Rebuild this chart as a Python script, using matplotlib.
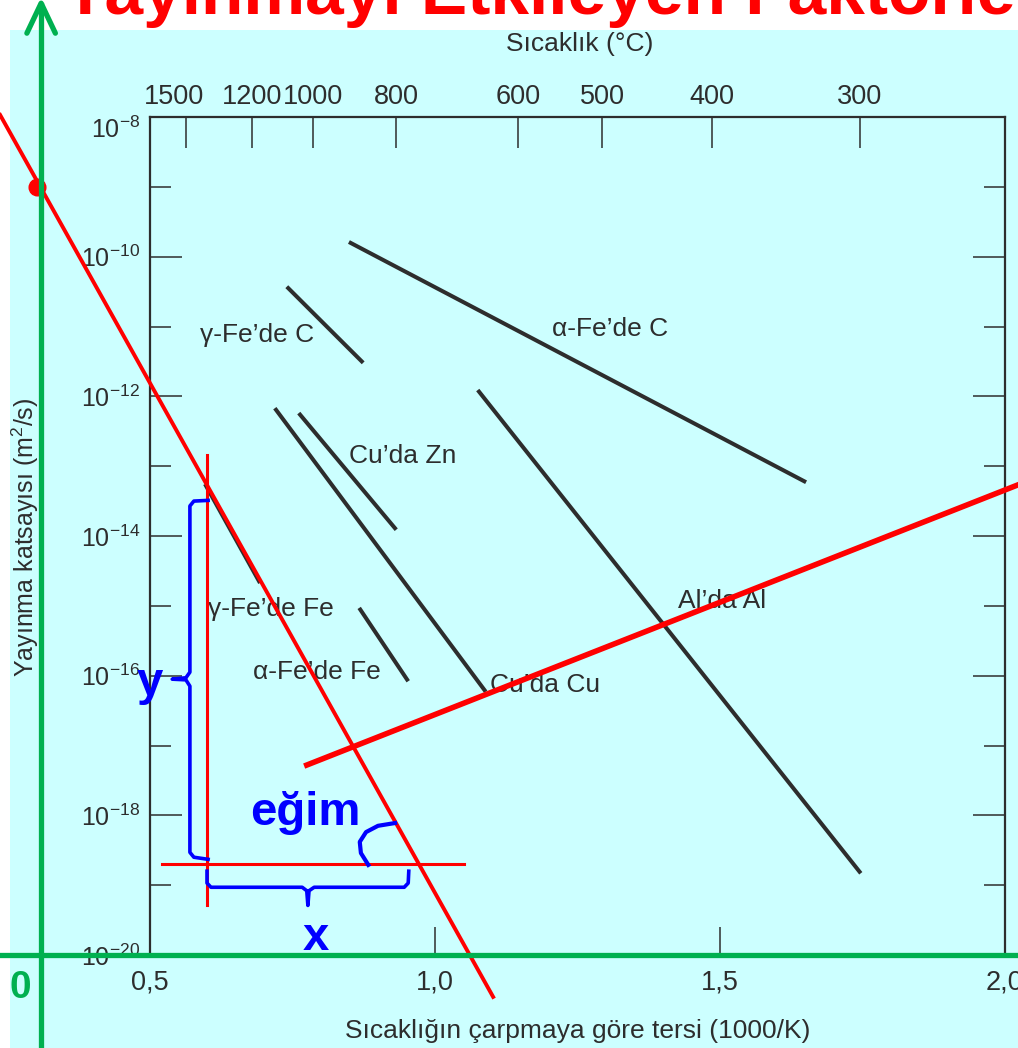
import numpy as np
import matplotlib
matplotlib.use('Agg')
import matplotlib.pyplot as plt
import matplotlib.transforms as mtransforms
from matplotlib.patches import Rectangle

plt.rcParams['font.family'] = ['Liberation Sans', 'DejaVu Sans']
plt.rcParams['mathtext.fontset'] = 'custom'
plt.rcParams['mathtext.rm'] = 'Liberation Sans'
plt.rcParams['mathtext.it'] = 'Liberation Sans:italic'
plt.rcParams['mathtext.bf'] = 'Liberation Sans:bold'
plt.rcParams['mathtext.default'] = 'regular'

# diffusion lines, x = 1000/K, e = log10(D in m2/s)
names   = ['α-Fe’de C', 'γ-Fe’de C', 'Cu’da Zn', 'Cu’da Cu', 'γ-Fe’de Fe', 'α-Fe’de Fe', 'Al’da Al']
x_start = [0.849, 0.740, 0.761, 0.719, 0.5965, 0.867, 1.075]
x_end   = [1.651, 0.874, 0.932, 1.089, 0.693, 0.953, 1.747]
e_start = [-9.79, -10.43, -12.24, -12.17, -13.256, -15.03, -11.91]
e_end   = [-13.23, -11.52, -13.91, -16.23, -14.673, -16.08, -18.83]

# label anchors (left edge, vertical centre)
lab_x = [1.205, 0.588, 0.849, 1.097, 0.602, 0.681, 1.4265]
lab_e = [-11.04, -11.12, -12.855, -16.134, -15.046, -15.948, -14.93]

major_exp = [-8, -10, -12, -14, -16, -18, -20]
minor_exp = [-9, -11, -13, -15, -17, -19]
x_ticks = [0.5, 1.0, 1.5, 2.0]
x_ticklabels = ['0,5', '1,0', '1,5', '2,0']
temps_c = [1500, 1200, 1000, 800, 600, 500, 400, 300]

# teaching overlay (same data coordinates)
steep_x = [0.237, 1.102]
steep_e = [-7.97, -20.60]
shallow_x = [0.775, 2.05]
shallow_e = [-17.28, -13.18]
vert_x = [0.600, 0.600]
vert_e = [-12.84, -19.28]
horiz_x = [0.521, 1.051]
horiz_e = [-18.70, -18.70]
dot_x, dot_e = 0.302, -9.0
ybrace_x = [0.602, 0.577, 0.570, 0.570, 0.563, 0.539, 0.563, 0.570, 0.570, 0.577, 0.602]
ybrace_e = [-13.49, -13.50, -13.57, -15.95, -16.03, -16.05, -16.06, -16.15, -18.53, -18.60, -18.63]
xbrace_x = [0.600, 0.600, 0.607, 0.767, 0.775, 0.777, 0.779, 0.788, 0.946, 0.953, 0.954]
xbrace_e = [-18.80, -18.97, -19.03, -19.03, -19.08, -19.29, -19.08, -19.03, -19.03, -18.97, -18.80]
arc_x = [0.930, 0.900, 0.879, 0.868, 0.870, 0.883]
arc_e = [-18.11, -18.15, -18.24, -18.38, -18.54, -18.71]
green_vx = [0.309, 0.309]
green_ve = [-21.6, -6.40]
green_head_x = [0.284, 0.309, 0.334]
green_head_e = [-6.80, -6.37, -6.80]
green_hx = [0.05, 2.1]
green_he = [-20.0, -20.0]

dark = '#2d2d2d'
cyan = '#ccffff'
red = '#ff0000'
blue = '#0000ff'
green = '#00b050'

fig = plt.figure(figsize=[10.18, 10.48], dpi=100)
fig.patch.set_facecolor('white')
fig.patches.append(Rectangle((10/1018, 0), 1, 1 - 30/1048, transform=fig.transFigure,
                             facecolor=cyan, edgecolor='none', zorder=-10))

fig.text(62/1018, 1 - 14/1048, 'Yayınmayı Etkileyen Faktörler', color=red,
         fontsize=50, fontweight='bold', ha='left', va='baseline')

ax = fig.add_axes([150/1018, 1 - 955/1048, 855/1018, 838/1048])
ax.set_facecolor('none')
ax.set_yscale('log')
ax.set_xlim(0.5, 2.0)
ax.set_ylim(1e-20, 1e-8)

for i in range(len(names)):
    ax.plot([x_start[i], x_end[i]], [10.0**e_start[i], 10.0**e_end[i]],
            color=dark, lw=2.9, solid_capstyle='butt', zorder=3)
    ax.text(lab_x[i], 10.0**lab_e[i], names[i], fontsize=19, color=dark,
            ha='left', va='center', zorder=4)

ax.set_yticks([10.0**e for e in major_exp])
ax.set_yticklabels(['$10^{%d}$' % e for e in major_exp])
ax.set_yticks([10.0**e for e in minor_exp], minor=True)
ax.yaxis.set_minor_formatter(matplotlib.ticker.NullFormatter())
ax.set_xticks(x_ticks)
ax.set_xticklabels(x_ticklabels)
ax.tick_params(axis='y', which='major', direction='in', length=23, width=1.1,
               left=True, right=True, labelsize=18, pad=7, colors=dark)
ax.tick_params(axis='y', which='minor', direction='in', length=15, width=1.1,
               left=True, right=True, colors=dark)
ax.tick_params(axis='x', which='major', direction='in', length=20, width=1.1,
               bottom=True, top=False, labelsize=19.5, pad=10.5, colors=dark)
for s in ax.spines.values():
    s.set_linewidth(1.6)
    s.set_color(dark)

# the top label sits a little lower in the original
top_lab = ax.yaxis.get_major_ticks()[0].label1
top_lab.set_transform(top_lab.get_transform() +
                      mtransforms.ScaledTranslation(0, -10/100, fig.dpi_scale_trans))

ax.set_xlabel('Sıcaklığın çarpmaya göre tersi (1000/K)', fontsize=19, color=dark, va='center')
ax.xaxis.set_label_coords(0.5006, -0.0905)
ax.set_ylabel('Yayınma katsayısı (m$^2$/s)', fontsize=18, color=dark, va='center')
ax.yaxis.set_label_coords(-0.146, 0.499)

ax2 = ax.twiny()
ax2.set_xlim(ax.get_xlim())
ax2.set_xticks([1000.0 / (t + 273) for t in temps_c])
ax2.set_xticklabels([str(t) for t in temps_c])
ax2.tick_params(axis='x', direction='in', length=22, width=1.1, labelsize=19.5,
                pad=5, colors=dark)
for s in ax2.spines.values():
    s.set_visible(False)
first_lab = ax2.xaxis.get_major_ticks()[0].label2
first_lab.set_transform(first_lab.get_transform() +
                        mtransforms.ScaledTranslation(-12/100, 0, fig.dpi_scale_trans))
ax2.set_xlabel('Sıcaklık (°C)', fontsize=19, color=dark, va='center')
ax2.xaxis.set_label_coords(0.503, 1.087)

def pl(xs, es, **kw):
    ax.plot(xs, [10.0**e for e in es], clip_on=False, **kw)

# red construction lines
pl(steep_x, steep_e, color=red, lw=2.8, zorder=5)
pl(shallow_x, shallow_e, color=red, lw=4.0, zorder=5)
pl(vert_x, vert_e, color=red, lw=2.2, zorder=5)
pl(horiz_x, horiz_e, color=red, lw=2.2, zorder=5)
ax.plot([dot_x], [10.0**dot_e], 'o', color=red, ms=12, clip_on=False, zorder=6)

# blue braces and angle mark
pl(ybrace_x, ybrace_e, color=blue, lw=2.6, zorder=6, solid_joinstyle='round')
pl(xbrace_x, xbrace_e, color=blue, lw=2.6, zorder=6, solid_joinstyle='round')
pl(arc_x, arc_e, color=blue, lw=3.0, zorder=6, solid_joinstyle='round')
ax.text(0.4991, 10.0**-16.277, 'y', color=blue, fontsize=34, fontweight='bold',
        ha='center', va='baseline', zorder=7)
ax.text(0.7719, 10.0**-18.139, 'eğim', color=blue, fontsize=34, fontweight='bold',
        ha='center', va='baseline', zorder=7)
ax.text(0.7904, 10.0**-19.93, 'x', color=blue, fontsize=34, fontweight='bold',
        ha='center', va='baseline', zorder=7)

# green reference axes
pl(green_vx, green_ve, color=green, lw=3.8, zorder=8)
pl(green_head_x, green_head_e, color=green, lw=3.8, zorder=8,
   solid_capstyle='round', solid_joinstyle='round')
pl(green_hx, green_he, color=green, lw=3.8, zorder=8)
ax.text(0.2719, 10.0**-20.62, '0', color=green, fontsize=28, fontweight='bold',
        ha='center', va='baseline', zorder=8)

fig.savefig('out.png', dpi=100)
